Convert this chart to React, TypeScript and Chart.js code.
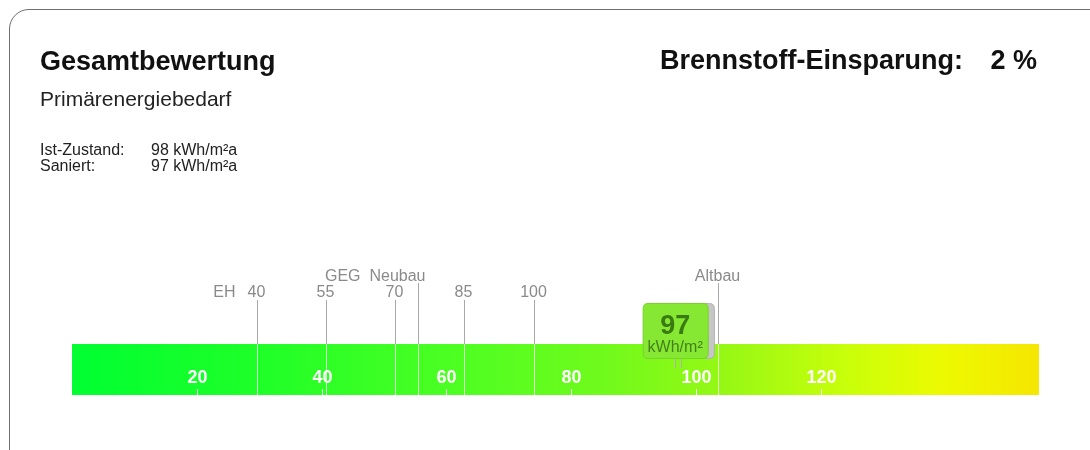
import React, { useEffect, useRef } from "react";
import { Chart, registerables } from "chart.js";

Chart.register(...registerables);

// ---------- data ----------
const TITLE = "Gesamtbewertung";
const SUBTITLE = "Primärenergiebedarf";
const SAVINGS_LABEL = "Brennstoff-Einsparung:";
const SAVINGS_PERCENT = 2;
const UNIT = "kWh/m²a";
const BUBBLE_UNIT = "kWh/m²";

const CATEGORIES = ["Primärenergiebedarf"];
const SCALE_MIN = 0;
const SCALE_MAX = 155;
const TICK_VALUES = [20, 40, 60, 80, 100, 120];

const STATE_NAMES = ["Ist-Zustand:", "Saniert:"];
const STATE_VALUES = [98, 97];

const MARKER_VALUES = [29.6, 40.7, 51.8, 55.5, 62.9, 74, 103.6];
const MARKER_LABELS = ["40", "55", "70", "GEG  Neubau", "85", "100", "Altbau"];
const MARKER_PREFIXES = ["EH", "", "", "", "", "", ""];

// ---------- styles / layout (not data) ----------
const FONT = '"Liberation Sans", Arial, Helvetica, sans-serif';
const MARKER_UPPER = [false, false, false, true, false, false, true];
const MARKER_ALIGN: CanvasTextAlign[] = ["center", "center", "center", "right", "center", "center", "center"];
const GRADIENT_STOPS: [number, string][] = [
  [0, "rgb(0,255,50)"],
  [0.2, "rgb(32,255,40)"],
  [0.4, "rgb(78,255,34)"],
  [0.55, "rgb(112,250,28)"],
  [0.68, "rgb(152,248,20)"],
  [0.8, "rgb(200,255,10)"],
  [0.9, "rgb(236,250,0)"],
  [1, "rgb(246,230,0)"],
];

function roundRect(ctx: CanvasRenderingContext2D, x: number, y: number, w: number, h: number, r: number) {
  ctx.beginPath();
  ctx.moveTo(x + r, y);
  ctx.lineTo(x + w - r, y);
  ctx.quadraticCurveTo(x + w, y, x + w, y + r);
  ctx.lineTo(x + w, y + h - r);
  ctx.quadraticCurveTo(x + w, y + h, x + w - r, y + h);
  ctx.lineTo(x + r, y + h);
  ctx.quadraticCurveTo(x, y + h, x, y + h - r);
  ctx.lineTo(x, y + r);
  ctx.quadraticCurveTo(x, y, x + r, y);
  ctx.closePath();
}

const overlayPlugin = {
  id: "overlay",
  afterDatasetsDraw(chart: any) {
    const ctx: CanvasRenderingContext2D = chart.ctx;
    const xs = chart.scales.x;
    const area = chart.chartArea;
    const top = area.top;
    const bottom = area.bottom;

    ctx.save();
    // marker lines
    MARKER_VALUES.forEach((v, i) => {
      const x = Math.round(xs.getPixelForValue(v)) + 0.5;
      const lineTop = MARKER_UPPER[i] ? 283 : 300;
      ctx.lineWidth = 1;
      ctx.strokeStyle = "#a9a9a9";
      ctx.beginPath();
      ctx.moveTo(x, lineTop);
      ctx.lineTo(x, top);
      ctx.stroke();
      ctx.strokeStyle = "rgba(255,255,255,0.75)";
      ctx.beginPath();
      ctx.moveTo(x, top);
      ctx.lineTo(x, bottom);
      ctx.stroke();

      ctx.fillStyle = "#8a8a8a";
      ctx.font = `16px ${FONT}`;
      ctx.textBaseline = "alphabetic";
      const baseY = MARKER_UPPER[i] ? 281 : 297;
      const align = MARKER_ALIGN[i];
      ctx.textAlign = align;
      const lx = align === "right" ? x + 7 : x - 1;
      ctx.fillText(MARKER_LABELS[i], lx, baseY);
      if (MARKER_PREFIXES[i]) {
        ctx.textAlign = "right";
        ctx.fillText(MARKER_PREFIXES[i], x - 22, baseY);
      }
    });

    // tick labels inside the bar
    TICK_VALUES.forEach((v) => {
      const x = Math.round(xs.getPixelForValue(v)) + 0.5;
      ctx.fillStyle = "#ffffff";
      ctx.font = `bold 18px ${FONT}`;
      ctx.textAlign = "center";
      ctx.fillText(String(v), x, 383);
      ctx.strokeStyle = "rgba(255,255,255,0.9)";
      ctx.lineWidth = 1;
      ctx.beginPath();
      ctx.moveTo(x, 389);
      ctx.lineTo(x, bottom);
      ctx.stroke();
    });

    // bubbles: Ist-Zustand (grey, behind), Saniert (green, front)
    const drawBubble = (v: number, fill: string, stroke: string, numColor: string, unitColor: string) => {
      const cx = xs.getPixelForValue(v) - 2;
      const w = 65;
      const h = 55;
      const bx = cx - w / 2;
      const by = 303;
      // pointer
      ctx.strokeStyle = "#b0b0b0";
      ctx.lineWidth = 1;
      ctx.beginPath();
      ctx.moveTo(Math.round(cx) + 0.5, by + h);
      ctx.lineTo(Math.round(cx) + 0.5, by + h + 10);
      ctx.stroke();
      roundRect(ctx, bx + 0.5, by + 0.5, w, h, 5);
      ctx.fillStyle = fill;
      ctx.fill();
      ctx.strokeStyle = stroke;
      ctx.stroke();
      ctx.textAlign = "center";
      ctx.fillStyle = numColor;
      ctx.font = `bold 27px ${FONT}`;
      ctx.fillText(String(v), cx, 334);
      ctx.fillStyle = unitColor;
      ctx.font = `16px ${FONT}`;
      ctx.fillText(BUBBLE_UNIT, cx, 352);
    };
    drawBubble(STATE_VALUES[0], "#c6c6c6", "#b0b0b0", "#8c8c8c", "#8c8c8c");
    drawBubble(STATE_VALUES[1], "#86e832", "#74d428", "#3a7a12", "#437f1c");

    ctx.restore();
  },
  afterDraw(chart: any) {
    const ctx: CanvasRenderingContext2D = chart.ctx;
    ctx.save();
    ctx.textBaseline = "alphabetic";
    ctx.fillStyle = "#111111";
    ctx.textAlign = "left";
    ctx.font = `bold 27px ${FONT}`;
    ctx.fillText(TITLE, 40, 70);
    ctx.fillText(SAVINGS_LABEL, 660, 69);
    ctx.textAlign = "right";
    ctx.fillText(`${SAVINGS_PERCENT} %`, 1037, 69);

    ctx.textAlign = "left";
    ctx.fillStyle = "#222222";
    ctx.font = `21px ${FONT}`;
    ctx.fillText(SUBTITLE, 40, 106);

    ctx.font = `16px ${FONT}`;
    STATE_NAMES.forEach((n, i) => {
      const y = 155 + i * 16;
      ctx.fillText(n, 40, y);
      ctx.fillText(`${STATE_VALUES[i]} ${UNIT}`, 151, y);
    });
    ctx.restore();
  },
};

export default function App() {
  const canvasRef = useRef<HTMLCanvasElement | null>(null);

  useEffect(() => {
    const canvas = canvasRef.current;
    if (!canvas) return;
    const chart = new Chart(canvas, {
      type: "bar",
      data: {
        labels: CATEGORIES,
        datasets: [
          {
            data: [[SCALE_MIN, SCALE_MAX]] as any,
            backgroundColor: (c: any) => {
              const ch = c.chart;
              const a = ch.chartArea;
              if (!a) return "rgb(120,250,30)";
              const g = ch.ctx.createLinearGradient(a.left, 0, a.right, 0);
              GRADIENT_STOPS.forEach(([p, col]) => g.addColorStop(p, col));
              return g;
            },
            borderWidth: 0,
            borderSkipped: false,
            barPercentage: 1,
            categoryPercentage: 1,
          },
        ],
      },
      options: {
        indexAxis: "y",
        animation: false,
        responsive: true,
        maintainAspectRatio: false,
        layout: { padding: { left: 72, right: 51, top: 344, bottom: 55 } },
        plugins: { legend: { display: false }, tooltip: { enabled: false } },
        scales: {
          x: { type: "linear", min: SCALE_MIN, max: SCALE_MAX, display: false },
          y: { display: false },
        },
      },
      plugins: [overlayPlugin],
    });
    return () => chart.destroy();
  }, []);

  return (
    <div style={{ position: "fixed", left: 0, top: 0, width: 1090, height: 450, background: "#fff", overflow: "hidden" }}>
      <div
        style={{
          position: "absolute",
          left: 9,
          top: 9,
          width: 1200,
          height: 700,
          border: "1.5px solid #6f6f6f",
          borderTopLeftRadius: 20,
          boxSizing: "border-box",
        }}
      />
      <canvas ref={canvasRef} style={{ position: "absolute", left: 0, top: 0, width: 1090, height: 450 }} />
    </div>
  );
}
